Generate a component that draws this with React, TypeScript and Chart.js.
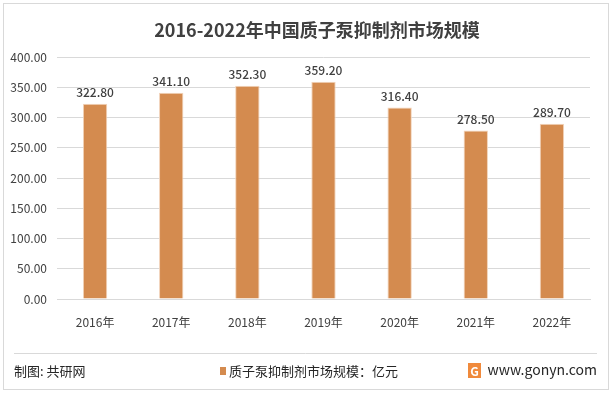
import React, { useEffect, useRef } from "react";
import { Chart, registerables } from "chart.js";

Chart.register(...registerables);

const categories = ["2016年", "2017年", "2018年", "2019年", "2020年", "2021年", "2022年"];
const marketSize = [322.8, 341.1, 352.3, 359.2, 316.4, 278.5, 289.7];
const yTicks = [0, 50, 100, 150, 200, 250, 300, 350, 400];
const titleText = "2016-2022年中国质子泵抑制剂市场规模";
const seriesName = "质子泵抑制剂市场规模：亿元";
const sourceText = "制图: 共研网";
const siteText = "www.gonyn.com";

const FONT = "'Noto Sans CJK SC', 'Microsoft YaHei', sans-serif";
const BAR = "#D48B4F";

const decorPlugin = {
  id: "decor",
  beforeDraw(chart: any) {
    const ctx = chart.ctx;
    const W = chart.width;
    const H = chart.height;
    ctx.save();
    ctx.fillStyle = "#ffffff";
    ctx.fillRect(0, 0, W, H);
    ctx.strokeStyle = "#d9d9d9";
    ctx.lineWidth = 1;
    ctx.strokeRect(3.5, 3.5, W - 7, H - 7);
    ctx.restore();
  },
  afterDraw(chart: any) {
    const ctx = chart.ctx;
    const W = chart.width;
    ctx.save();
    // title
    ctx.fillStyle = "#404040";
    ctx.font = `bold 18px ${FONT}`;
    ctx.textAlign = "center";
    ctx.textBaseline = "middle";
    ctx.fillText(titleText, 317, 30);
    // data labels
    const meta = chart.getDatasetMeta(0);
    ctx.font = `500 12px ${FONT}`;
    ctx.fillStyle = "#404040";
    ctx.textBaseline = "bottom";
    meta.data.forEach((bar: any, i: number) => {
      ctx.fillText(marketSize[i].toFixed(2), bar.x, bar.y - 5);
    });
    // separator
    ctx.strokeStyle = "#d9d9d9";
    ctx.lineWidth = 1;
    ctx.beginPath();
    ctx.moveTo(14, 353.5);
    ctx.lineTo(597, 353.5);
    ctx.stroke();
    // footer
    ctx.font = `13px ${FONT}`;
    ctx.fillStyle = "#262626";
    ctx.textAlign = "left";
    ctx.textBaseline = "middle";
    ctx.fillText(sourceText, 14, 371);
    ctx.fillStyle = BAR;
    ctx.fillRect(220, 367, 6, 8);
    ctx.fillStyle = "#262626";
    ctx.fillText(seriesName, 229, 371);
    // icon
    ctx.fillStyle = "#F08A3C";
    ctx.fillRect(468, 363, 13, 15);
    ctx.fillStyle = "#ffffff";
    ctx.font = `bold 12px ${FONT}`;
    ctx.textAlign = "center";
    ctx.fillText("G", 474.5, 371);
    ctx.fillStyle = "#262626";
    ctx.font = `14px ${FONT}`;
    ctx.textAlign = "right";
    ctx.fillText(siteText, 597, 370);
    ctx.restore();
  },
};

export default function App() {
  const ref = useRef<HTMLCanvasElement | null>(null);
  useEffect(() => {
    document.body.style.margin = "0";
    const chart = new Chart(ref.current as HTMLCanvasElement, {
      type: "bar",
      data: {
        labels: categories,
        datasets: [
          {
            label: seriesName,
            data: marketSize,
            backgroundColor: BAR,
            borderColor: "#F2D3BA",
            borderWidth: 1,
            barPercentage: 0.32,
            categoryPercentage: 1,
          },
        ],
      },
      options: {
        responsive: false,
        animation: false,
        devicePixelRatio: 1,
        layout: { padding: { top: 57, right: 22, left: 0, bottom: 0 } },
        plugins: { legend: { display: false }, tooltip: { enabled: false }, title: { display: false } },
        scales: {
          x: {
            grid: { display: false },
            border: { display: true, color: "#d9d9d9" },
            ticks: { color: "#404040", font: { family: FONT, size: 12 }, padding: 8 },
            afterFit: (s: any) => {
              s.height = 94;
            },
          },
          y: {
            min: 0,
            max: 400,
            afterBuildTicks: (s: any) => {
              s.ticks = yTicks.map((v) => ({ value: v }));
            },
            grid: { color: "#d9d9d9", drawTicks: false },
            border: { display: false },
            ticks: {
              color: "#404040",
              font: { family: FONT, size: 12 },
              padding: 10,
              callback: (v: any) => Number(v).toFixed(2),
            },
            afterFit: (s: any) => {
              s.width = 57;
            },
          },
        },
      },
      plugins: [decorPlugin],
    });
    return () => chart.destroy();
  }, []);
  return (
    <div style={{ width: 612, height: 393 }}>
      <canvas ref={ref} width={612} height={393} />
    </div>
  );
}
